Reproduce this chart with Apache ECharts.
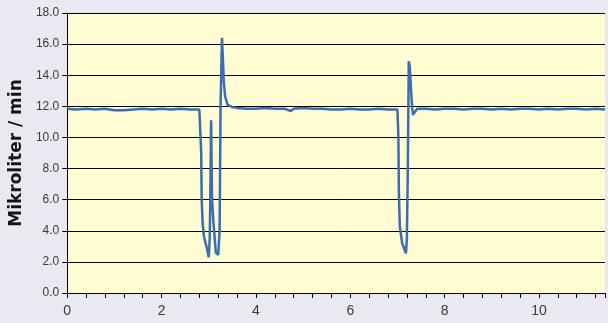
<!DOCTYPE html>
<html>
<head>
<meta charset="utf-8">
<script src="https://cdn.jsdelivr.net/npm/echarts@6/dist/echarts.min.js"></script>
<style>
html,body{margin:0;padding:0;background:#E9E9F2;}
#c{width:608px;height:323px;}
</style>
</head>
<body>
<div id="c"></div>
<script>
// time (x) values
var timeValues = [
  0, 0.2, 0.4, 0.6, 0.8, 1.0, 1.2, 1.4, 1.6, 1.8, 2.0, 2.2, 2.4, 2.6, 2.8,
  2.82, 2.84, 2.85, 2.87, 2.9, 2.95, 3.0, 3.02, 3.03, 3.05, 3.07, 3.1, 3.15, 3.2,
  3.23, 3.25, 3.28, 3.3, 3.32, 3.35, 3.4, 3.5, 3.6,
  3.8, 4.0, 4.2, 4.4, 4.6, 4.74, 4.8, 5.0, 5.2, 5.4, 5.6, 5.8, 6.0, 6.2, 6.4, 6.6, 6.8, 7.0,
  7.02, 7.03, 7.05, 7.1, 7.18, 7.2, 7.22, 7.24, 7.26, 7.28, 7.31, 7.33, 7.36, 7.42,
  7.6, 7.8, 8.0, 8.2, 8.4, 8.6, 8.8, 9.0, 9.2, 9.4, 9.6, 9.8, 10.0, 10.2, 10.4, 10.6, 10.8, 11.0, 11.2, 11.4
];
// flow (y) values, Mikroliter / min
var flowValues = [
  11.85, 11.8, 11.85, 11.8, 11.85, 11.75, 11.75, 11.8, 11.85, 11.8, 11.85, 11.8, 11.85, 11.8, 11.8,
  11.8, 9.0, 6.0, 4.5, 3.6, 3.0, 2.3, 3.5, 5.5, 11.1, 6.0, 4.5, 2.6, 2.45,
  4.0, 12.0, 16.4, 15.0, 13.5, 12.6, 12.1, 11.95, 11.9,
  11.85, 11.85, 11.9, 11.85, 11.85, 11.7, 11.85, 11.9, 11.85, 11.85, 11.8, 11.8, 11.85, 11.8, 11.8, 11.85, 11.8, 11.8,
  10.0, 6.5, 4.3, 3.2, 2.55, 3.5, 8.0, 14.9, 14.6, 13.5, 12.0, 11.45, 11.6, 11.85,
  11.85, 11.8, 11.85, 11.85, 11.8, 11.85, 11.85, 11.8, 11.85, 11.8, 11.85, 11.85, 11.8, 11.85, 11.8, 11.85, 11.85, 11.8, 11.85, 11.8
];
var yTicks = { min: 0, max: 18, step: 2 };
var xTicks = { min: 0, max: 11.4, step: 0.4, labelEvery: 2 };
var yTitle = 'Mikroliter / min';

var points = timeValues.map(function (t, i) { return [t, flowValues[i]]; });

var chart = echarts.init(document.getElementById('c'), null, { renderer: 'canvas' });
chart.setOption({
  backgroundColor: '#E9E9F2',
  animation: false,
  grid: {
    left: 66, top: 13, right: -4, bottom: 30,
    show: true, backgroundColor: '#FFFBD3', borderWidth: 0
  },
  xAxis: {
    type: 'value',
    min: xTicks.min, max: xTicks.max, interval: xTicks.step,
    axisLine: { show: true, lineStyle: { color: '#000', width: 1 } },
    axisTick: { show: true, length: 5, inside: false, lineStyle: { color: '#000' } },
    splitLine: { show: false },
    axisLabel: {
      color: '#3a3a3a', fontSize: 14, fontFamily: 'Liberation Sans, Arial, sans-serif', margin: 11,
      formatter: function (v) {
        var r = v / xTicks.labelEvery;
        return Math.abs(r - Math.round(r)) < 1e-6 ? String(Math.round(v)) : '';
      }
    }
  },
  yAxis: {
    type: 'value',
    min: yTicks.min, max: yTicks.max, interval: yTicks.step,
    name: yTitle,
    nameLocation: 'middle',
    nameRotate: 90,
    nameGap: 42,
    nameTextStyle: { color: '#151515', fontSize: 17, fontWeight: 'bold', fontFamily: 'DejaVu Sans, sans-serif' },
    axisLine: { show: true, lineStyle: { color: '#000', width: 1 } },
    axisTick: { show: true, length: 5, inside: false, lineStyle: { color: '#000' } },
    splitLine: { show: true, lineStyle: { color: '#000', width: 1 } },
    axisLabel: {
      color: '#3a3a3a', fontSize: 12, fontFamily: 'Liberation Sans, Arial, sans-serif', margin: 8,
      formatter: function (v) { return v.toFixed(1); }
    }
  },
  series: [{
    type: 'line',
    data: points,
    showSymbol: false,
    symbol: 'none',
    lineStyle: { color: '#3A6DB2', width: 2.5 },
    z: 5
  }]
});
</script>
</body>
</html>
